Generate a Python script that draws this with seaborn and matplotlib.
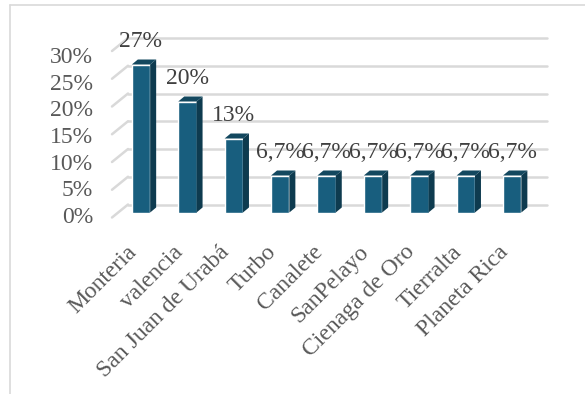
import matplotlib
matplotlib.use("Agg")
import matplotlib.pyplot as plt
import seaborn as sns
import pandas as pd
from matplotlib.patches import Polygon
from matplotlib.lines import Line2D
from matplotlib.transforms import IdentityTransform

# ---- data ----
categories = ["Monteria", "valencia", "San Juan de Urabá", "Turbo", "Canalete",
              "SanPelayo", "Cienaga de Oro", "Tierralta", "Planeta Rica"]
values = [4/15, 3/15, 2/15, 1/15, 1/15, 1/15, 1/15, 1/15, 1/15]
value_labels = ["27%", "20%", "13%", "6,7%", "6,7%", "6,7%", "6,7%", "6,7%", "6,7%"]
y_ticks = [0, 0.05, 0.10, 0.15, 0.20, 0.25, 0.30]
y_tick_labels = ["0%", "5%", "10%", "15%", "20%", "25%", "30%"]

sns.set_theme(style="white")
plt.rcParams['font.family'] = ['Liberation Serif', 'DejaVu Serif']

W, H = 585, 394
FRONT = "#185e7e"
SIDE = "#0e3b4f"
TOP = "#13485f"
GRID = "#d9d9d9"

fig = plt.figure(figsize=(W/100, H/100), dpi=100)
ax = fig.add_axes([117.8/W, (H-212.5)/H, 417.6/W, 166.5/H])

df = pd.DataFrame({"municipio": categories, "pct": values})
sns.barplot(data=df, x="municipio", y="pct", color=FRONT, saturation=1,
            width=0.395, ax=ax, zorder=3)
ax.set_xlim(-0.5, 8.5)
ax.set_ylim(0, 0.30)
for s in ax.spines.values():
    s.set_visible(False)
ax.set_xlabel("")
ax.set_ylabel("")
ax.set_yticks([])
ax.grid(False)
ax.patch.set_visible(False)

# 3D faces for bars
DX, DY = 6, 5
for p in list(ax.patches):
    x0, w, h = p.get_x(), p.get_width(), p.get_height()
    (ax_l, ay_b) = ax.transData.transform((x0, 0))
    (ax_r, ay_t) = ax.transData.transform((x0 + w, h))
    side = [(ax_r, ay_b), (ax_r + DX, ay_b + DY), (ax_r + DX, ay_t + DY), (ax_r, ay_t)]
    top = [(ax_l, ay_t), (ax_l + DX, ay_t + DY), (ax_r + DX, ay_t + DY), (ax_r, ay_t)]
    ax.add_patch(Polygon(side, closed=True, transform=IdentityTransform(),
                         facecolor=SIDE, edgecolor="none", zorder=4, clip_on=False))
    ax.add_patch(Polygon(top, closed=True, transform=IdentityTransform(),
                         facecolor=TOP, edgecolor="none", zorder=4, clip_on=False))

# back-wall gridlines with diagonal floor stubs
for t in y_ticks:
    (gx0, gy) = ax.transData.transform((-0.28, t))
    (gx1, _) = ax.transData.transform((8.75, t))
    (sx0, sy) = ax.transData.transform((-0.625, t))
    ax.add_line(Line2D([gx0, gx1], [gy + 8, gy + 8], transform=IdentityTransform(),
                       color=GRID, lw=1.8, zorder=0.5, clip_on=False))
    ax.add_line(Line2D([sx0, gx0], [sy - 5, gy + 8], transform=IdentityTransform(),
                       color=GRID, lw=1.8, zorder=0.5, clip_on=False))

# value labels
for i, (v, lab) in enumerate(zip(values, value_labels)):
    ax.annotate(lab, (i, v), xytext=(0, 23 * 0.72), textcoords="offset points",
                ha="center", va="center", fontsize=17, color="#404040", zorder=5)

# x tick labels
ax.set_xticks(range(len(categories)))
ax.set_xticklabels(categories, rotation=45, ha="right", fontsize=17, color="#595959")
ax.tick_params(axis="x", length=0, pad=21)

# y tick labels on a separate label axis
ax2 = fig.add_axes([93/W, (H-215)/H, 10/W, 160/H])
ax2.set_ylim(0, 0.30)
ax2.set_yticks(y_ticks)
ax2.set_yticklabels(y_tick_labels, fontsize=17, color="#595959")
ax2.set_xticks([])
ax2.tick_params(axis="y", length=0, pad=0)
ax2.grid(False)
for s in ax2.spines.values():
    s.set_visible(False)
ax2.patch.set_visible(False)

# chart frame (partially visible)
fig.add_artist(Line2D([10/W, 10/W], [0, (H-5)/H], color=GRID, lw=1.2))
fig.add_artist(Line2D([10/W, 1], [(H-5)/H, (H-5)/H], color=GRID, lw=1.2))

fig.savefig("out.png", dpi=100)
